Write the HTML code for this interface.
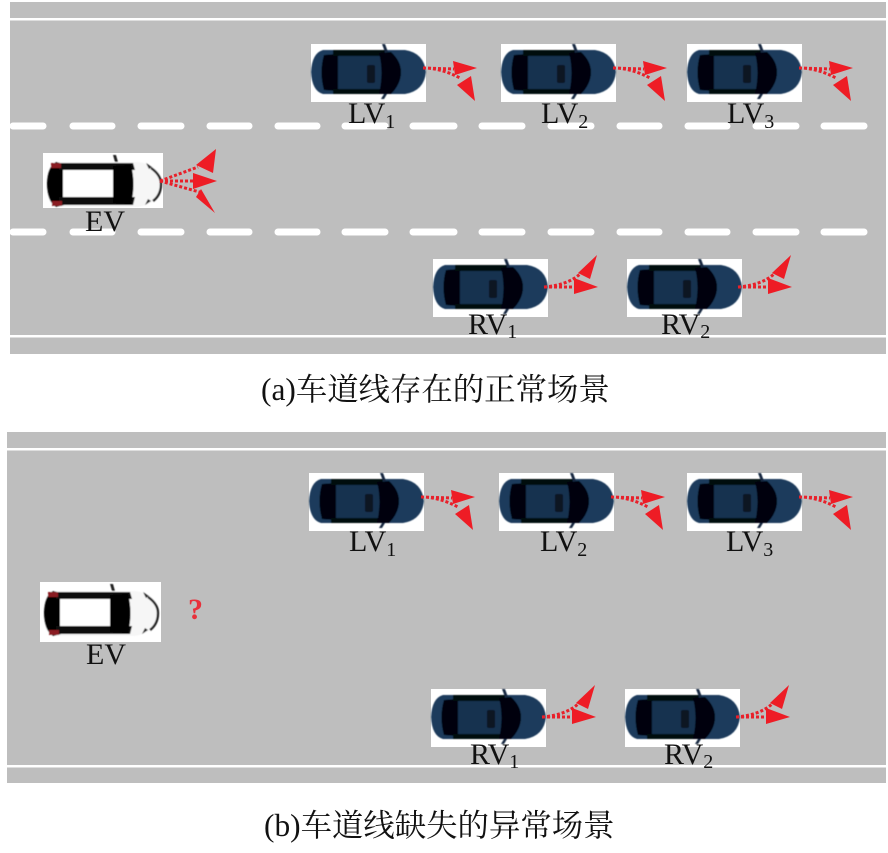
<!DOCTYPE html>
<html lang="zh">
<head>
<meta charset="utf-8">
<style>
html,body{margin:0;padding:0;background:#fff;width:888px;height:853px;overflow:hidden}
svg{display:block}
.lb{font-family:"Liberation Serif","Noto Serif CJK SC",serif;font-size:30px;fill:#111}
.sb{font-size:20px}
.cap{font-family:"Liberation Serif","Noto Serif CJK SC",serif;font-size:31.4px;fill:#111}
</style>
</head>
<body>
<svg width="888" height="853" viewBox="0 0 888 853" xmlns="http://www.w3.org/2000/svg">
<defs>
<filter id="soft" x="-5%" y="-5%" width="110%" height="110%"><feGaussianBlur stdDeviation="0.6"/></filter>
<g id="navy">
  <rect x="0" y="0" width="115" height="58" fill="#fff"/>
  <g filter="url(#soft)">
  <path d="M12 6 H94 Q113 9 115 28 Q113 47 94 50 H12 Q1 47 0 28 Q1 9 12 6Z" fill="#1b3b5c"/>
  <path d="M13 11 Q8 28 13 46 L27 47 V10Z" fill="#020408"/>
  <path d="M22 6 H76 L70 12 H22Z M22 50 H76 L70 45 H22Z" fill="#05090f"/>
  <rect x="27" y="12" width="44" height="33" fill="#16324f"/>
  <path d="M68 9 L80 8 Q90 17 90 28 Q90 40 80 50 L68 50 Q73 28 68 9Z" fill="#020408"/>
  <rect x="56" y="21" width="8" height="18" rx="2" fill="#081220"/>
  <path d="M71 0 L74 0 L77 8 L74 8Z M73 50 L76 50 L73 55 L70 55Z" fill="#12273f"/>
  </g>
</g>
<g id="ego">
  <g filter="url(#soft)">
  <path d="M12 9 H95 Q118 12 119 31 Q118 50 95 54 H12 Q4 50 4 31 Q4 13 12 9Z" fill="#f6f6f6"/>
  <path d="M13 9 Q4 14 4 31 Q4 48 13 54 L21 52 V11Z" fill="#050505"/>
  <path d="M16 10 H90 L92 17 H16Z M16 44 H92 L90 52 H16Z" fill="#0a0a0a"/>
  <rect x="20" y="17" width="50" height="27" fill="#fff"/>
  <path d="M70 13 L88 12 Q93 31 88 51 L70 50Z" fill="#030303"/>
  <path d="M108 15 Q118 22 118 31 Q118 42 110 48" fill="none" stroke="#222" stroke-width="2.4"/>
  <path d="M103 10 l6 4 l-3 2Z M102 52 l6 -4 l-3 -2Z" fill="#222"/>
  <rect x="8" y="10" width="10" height="5" fill="#8a1a22"/>
  <rect x="9" y="48" width="10" height="5" fill="#8a1a22"/>
  <path d="M70 2 h3 l2 7 h-3Z" fill="#222"/>
  </g>
</g>
<g id="alv">
  <path d="M112 24 Q130 24 149 34 M112 24 L143 25" fill="none" stroke="#e8202a" stroke-width="3" stroke-dasharray="3 2"/>
  <path d="M142 17 L166 24 L144 31Z" fill="#ee1c25"/>
  <path d="M160 32 L146 41 L164 57Z" fill="#ee1c25"/>
</g>
<g id="arv">
  <path d="M111 28 L142 28 M111 28 Q135 26 147 15" fill="none" stroke="#e8202a" stroke-width="3" stroke-dasharray="3 2"/>
  <path d="M141 19 L165 28 L141 35Z" fill="#ee1c25"/>
  <path d="M164 -4 L145 14 L157 20Z" fill="#ee1c25"/>
</g>
<g id="aev">
  <path d="M117 28 L155 14 M117 28 L152 28 M117 28 L160 40" fill="none" stroke="#e8202a" stroke-width="3" stroke-dasharray="3 2"/>
  <path d="M173 -4 L153 12 L170 20Z" fill="#ee1c25"/>
  <path d="M150 20 L174 28 L150 36Z" fill="#ee1c25"/>
  <path d="M158 36 L153 44 L172 60Z" fill="#ee1c25"/>
</g>
</defs>

<!-- road a -->
<rect x="10" y="2" width="876" height="352" fill="#bebebe"/>
<rect x="10" y="18" width="876" height="2.5" fill="#fff"/>
<rect x="10" y="335" width="876" height="2.5" fill="#fff"/>
<g stroke="#fff" stroke-width="7" stroke-linecap="round" fill="none">
  <path d="M13 126H43 M73 126H112 M141 126H181 M210 126H249 M278 126H317 M345 126H385 M413 126H454 M482 126H522 M551 126H591 M620 126H659 M688 126H727 M756 126H796 M824 126H864"/>
  <path d="M13 232H43 M73 232H112 M141 232H181 M210 232H249 M278 232H317 M345 232H385 M413 232H454 M482 232H522 M551 232H591 M620 232H659 M688 232H727 M756 232H796 M824 232H864"/>
</g>

<use href="#navy" x="311" y="44"/><use href="#alv" x="311" y="44"/>
<use href="#navy" x="501" y="44"/><use href="#alv" x="501" y="44"/>
<use href="#navy" x="687" y="44"/><use href="#alv" x="687" y="44"/>
<rect x="43" y="153" width="120" height="55" fill="#fff"/>
<use href="#ego" x="43" y="153"/><use href="#aev" x="43" y="153"/>
<use href="#navy" x="433" y="259"/><use href="#arv" x="433" y="259"/>
<use href="#navy" x="627" y="259"/><use href="#arv" x="627" y="259"/>

<text class="lb" x="348" y="123">LV<tspan class="sb" dy="5">1</tspan></text>
<text class="lb" x="541" y="123">LV<tspan class="sb" dy="5">2</tspan></text>
<text class="lb" x="727" y="123">LV<tspan class="sb" dy="5">3</tspan></text>
<text class="lb" x="85" y="231">EV</text>
<text class="lb" x="468" y="334">RV<tspan class="sb" dy="4">1</tspan></text>
<text class="lb" x="661" y="334">RV<tspan class="sb" dy="4">2</tspan></text>

<text class="cap" x="261" y="400">(a)车道线存在的正常场景</text>

<!-- road b -->
<rect x="7" y="432" width="879" height="351" fill="#bebebe"/>
<rect x="7" y="448" width="879" height="2.5" fill="#fff"/>
<rect x="7" y="765" width="879" height="2.5" fill="#fff"/>

<use href="#navy" x="309" y="473"/><use href="#alv" x="309" y="473"/>
<use href="#navy" x="499" y="473"/><use href="#alv" x="499" y="473"/>
<use href="#navy" x="687" y="473"/><use href="#alv" x="687" y="473"/>
<rect x="40" y="582" width="121" height="60" fill="#fff"/>
<use href="#ego" x="40" y="582"/>
<use href="#navy" x="431" y="689"/><use href="#arv" x="431" y="689"/>
<use href="#navy" x="625" y="689"/><use href="#arv" x="625" y="689"/>

<text x="188" y="619" font-family="Liberation Serif, serif" font-size="30" font-weight="bold" fill="#e8303a">?</text>

<text class="lb" x="349" y="551">LV<tspan class="sb" dy="5">1</tspan></text>
<text class="lb" x="540" y="551">LV<tspan class="sb" dy="5">2</tspan></text>
<text class="lb" x="726" y="551">LV<tspan class="sb" dy="5">3</tspan></text>
<text class="lb" x="86" y="664">EV</text>
<text class="lb" x="470" y="764">RV<tspan class="sb" dy="4">1</tspan></text>
<text class="lb" x="664" y="764">RV<tspan class="sb" dy="4">2</tspan></text>

<text class="cap" x="264" y="836">(b)车道线缺失的异常场景</text>
</svg>
</body>
</html>
